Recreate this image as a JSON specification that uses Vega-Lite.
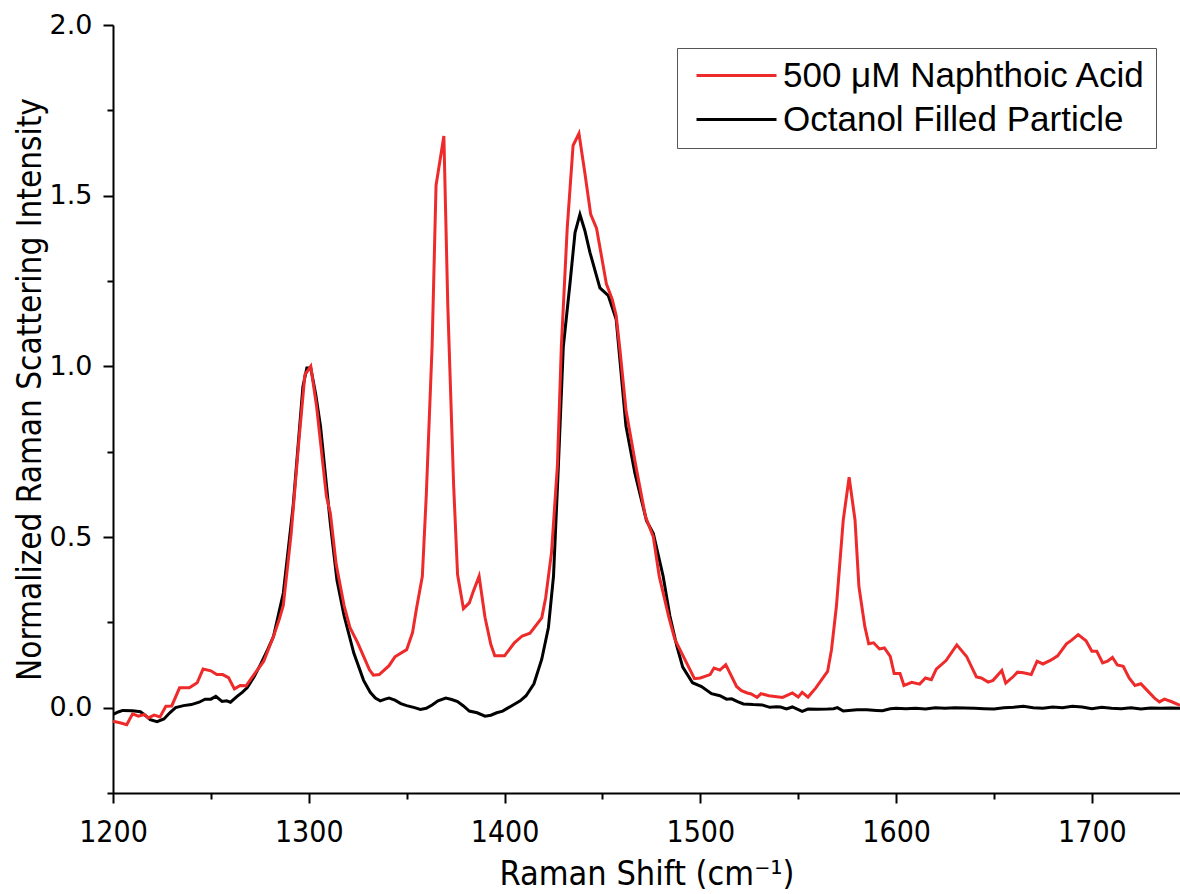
{
  "$schema": "https://vega.github.io/schema/vega-lite/v6.json",
  "width": 1067,
  "height": 768,
  "autosize": {"type": "none"},
  "padding": {"left": 113, "top": 25, "right": 0, "bottom": 101},
  "background": "white",
  "config": {"view": {"stroke": null}},
  "datasets": {
    "black": [
      {"series":"Octanol Filled Particle","shift":1200,"intensity":-0.02},
      {"series":"Octanol Filled Particle","shift":1203,"intensity":-0.012},
      {"series":"Octanol Filled Particle","shift":1205,"intensity":-0.008},
      {"series":"Octanol Filled Particle","shift":1210,"intensity":-0.009},
      {"series":"Octanol Filled Particle","shift":1214,"intensity":-0.012},
      {"series":"Octanol Filled Particle","shift":1217,"intensity":-0.025},
      {"series":"Octanol Filled Particle","shift":1219,"intensity":-0.035},
      {"series":"Octanol Filled Particle","shift":1222.5,"intensity":-0.041},
      {"series":"Octanol Filled Particle","shift":1226,"intensity":-0.033},
      {"series":"Octanol Filled Particle","shift":1229,"intensity":-0.015},
      {"series":"Octanol Filled Particle","shift":1232,"intensity":0.0},
      {"series":"Octanol Filled Particle","shift":1236,"intensity":0.006},
      {"series":"Octanol Filled Particle","shift":1240,"intensity":0.009},
      {"series":"Octanol Filled Particle","shift":1244,"intensity":0.016},
      {"series":"Octanol Filled Particle","shift":1247,"intensity":0.025},
      {"series":"Octanol Filled Particle","shift":1250,"intensity":0.025},
      {"series":"Octanol Filled Particle","shift":1252.5,"intensity":0.033},
      {"series":"Octanol Filled Particle","shift":1255.7,"intensity":0.018},
      {"series":"Octanol Filled Particle","shift":1258,"intensity":0.02},
      {"series":"Octanol Filled Particle","shift":1260,"intensity":0.016},
      {"series":"Octanol Filled Particle","shift":1263.4,"intensity":0.033},
      {"series":"Octanol Filled Particle","shift":1266,"intensity":0.045},
      {"series":"Octanol Filled Particle","shift":1268.5,"intensity":0.058},
      {"series":"Octanol Filled Particle","shift":1272,"intensity":0.09},
      {"series":"Octanol Filled Particle","shift":1275.3,"intensity":0.126},
      {"series":"Octanol Filled Particle","shift":1279,"intensity":0.17},
      {"series":"Octanol Filled Particle","shift":1282,"intensity":0.209},
      {"series":"Octanol Filled Particle","shift":1287,"intensity":0.336},
      {"series":"Octanol Filled Particle","shift":1292,"intensity":0.59},
      {"series":"Octanol Filled Particle","shift":1297,"intensity":0.94},
      {"series":"Octanol Filled Particle","shift":1299,"intensity":0.995},
      {"series":"Octanol Filled Particle","shift":1301,"intensity":0.995},
      {"series":"Octanol Filled Particle","shift":1303.5,"intensity":0.92},
      {"series":"Octanol Filled Particle","shift":1306,"intensity":0.824},
      {"series":"Octanol Filled Particle","shift":1311,"intensity":0.54},
      {"series":"Octanol Filled Particle","shift":1314.4,"intensity":0.373},
      {"series":"Octanol Filled Particle","shift":1318,"intensity":0.27},
      {"series":"Octanol Filled Particle","shift":1323,"intensity":0.16},
      {"series":"Octanol Filled Particle","shift":1328,"intensity":0.08},
      {"series":"Octanol Filled Particle","shift":1331.4,"intensity":0.045},
      {"series":"Octanol Filled Particle","shift":1334,"intensity":0.028},
      {"series":"Octanol Filled Particle","shift":1336.5,"intensity":0.02},
      {"series":"Octanol Filled Particle","shift":1339,"intensity":0.025},
      {"series":"Octanol Filled Particle","shift":1341,"intensity":0.028},
      {"series":"Octanol Filled Particle","shift":1344,"intensity":0.022},
      {"series":"Octanol Filled Particle","shift":1347,"intensity":0.012},
      {"series":"Octanol Filled Particle","shift":1350,"intensity":0.006},
      {"series":"Octanol Filled Particle","shift":1354,"intensity":0.0},
      {"series":"Octanol Filled Particle","shift":1357,"intensity":-0.005},
      {"series":"Octanol Filled Particle","shift":1360,"intensity":-0.002},
      {"series":"Octanol Filled Particle","shift":1363,"intensity":0.008},
      {"series":"Octanol Filled Particle","shift":1366,"intensity":0.02},
      {"series":"Octanol Filled Particle","shift":1370,"intensity":0.028},
      {"series":"Octanol Filled Particle","shift":1373,"intensity":0.024},
      {"series":"Octanol Filled Particle","shift":1376,"intensity":0.018},
      {"series":"Octanol Filled Particle","shift":1379,"intensity":0.005},
      {"series":"Octanol Filled Particle","shift":1382,"intensity":-0.01},
      {"series":"Octanol Filled Particle","shift":1386,"intensity":-0.015},
      {"series":"Octanol Filled Particle","shift":1390,"intensity":-0.025},
      {"series":"Octanol Filled Particle","shift":1393,"intensity":-0.022},
      {"series":"Octanol Filled Particle","shift":1396,"intensity":-0.015},
      {"series":"Octanol Filled Particle","shift":1399,"intensity":-0.01},
      {"series":"Octanol Filled Particle","shift":1402,"intensity":0.0},
      {"series":"Octanol Filled Particle","shift":1405,"intensity":0.01},
      {"series":"Octanol Filled Particle","shift":1408,"intensity":0.02},
      {"series":"Octanol Filled Particle","shift":1411,"intensity":0.035},
      {"series":"Octanol Filled Particle","shift":1415,"intensity":0.07},
      {"series":"Octanol Filled Particle","shift":1419,"intensity":0.142},
      {"series":"Octanol Filled Particle","shift":1422.4,"intensity":0.235},
      {"series":"Octanol Filled Particle","shift":1425,"intensity":0.385},
      {"series":"Octanol Filled Particle","shift":1427.5,"intensity":0.71},
      {"series":"Octanol Filled Particle","shift":1430,"intensity":1.057},
      {"series":"Octanol Filled Particle","shift":1433.4,"intensity":1.242},
      {"series":"Octanol Filled Particle","shift":1436,"intensity":1.392},
      {"series":"Octanol Filled Particle","shift":1438.5,"intensity":1.445},
      {"series":"Octanol Filled Particle","shift":1441,"intensity":1.398},
      {"series":"Octanol Filled Particle","shift":1443.6,"intensity":1.334},
      {"series":"Octanol Filled Particle","shift":1448.7,"intensity":1.23},
      {"series":"Octanol Filled Particle","shift":1453,"intensity":1.207},
      {"series":"Octanol Filled Particle","shift":1457,"intensity":1.138},
      {"series":"Octanol Filled Particle","shift":1462,"intensity":0.826},
      {"series":"Octanol Filled Particle","shift":1466.6,"intensity":0.686},
      {"series":"Octanol Filled Particle","shift":1472.5,"intensity":0.548},
      {"series":"Octanol Filled Particle","shift":1476,"intensity":0.51},
      {"series":"Octanol Filled Particle","shift":1481,"intensity":0.385},
      {"series":"Octanol Filled Particle","shift":1484.4,"intensity":0.27},
      {"series":"Octanol Filled Particle","shift":1488,"intensity":0.18},
      {"series":"Octanol Filled Particle","shift":1491,"intensity":0.119},
      {"series":"Octanol Filled Particle","shift":1496,"intensity":0.073},
      {"series":"Octanol Filled Particle","shift":1500.6,"intensity":0.062},
      {"series":"Octanol Filled Particle","shift":1505.7,"intensity":0.041},
      {"series":"Octanol Filled Particle","shift":1510,"intensity":0.035},
      {"series":"Octanol Filled Particle","shift":1513.4,"intensity":0.025},
      {"series":"Octanol Filled Particle","shift":1516,"intensity":0.026},
      {"series":"Octanol Filled Particle","shift":1519,"intensity":0.018},
      {"series":"Octanol Filled Particle","shift":1522,"intensity":0.011},
      {"series":"Octanol Filled Particle","shift":1527,"intensity":0.009},
      {"series":"Octanol Filled Particle","shift":1531.6,"intensity":0.008},
      {"series":"Octanol Filled Particle","shift":1535.5,"intensity":0.001},
      {"series":"Octanol Filled Particle","shift":1539,"intensity":0.003},
      {"series":"Octanol Filled Particle","shift":1541,"intensity":0.002},
      {"series":"Octanol Filled Particle","shift":1544,"intensity":-0.004},
      {"series":"Octanol Filled Particle","shift":1547,"intensity":0.002},
      {"series":"Octanol Filled Particle","shift":1552,"intensity":-0.011},
      {"series":"Octanol Filled Particle","shift":1555,"intensity":-0.004},
      {"series":"Octanol Filled Particle","shift":1560,"intensity":-0.005},
      {"series":"Octanol Filled Particle","shift":1565,"intensity":-0.004},
      {"series":"Octanol Filled Particle","shift":1568,"intensity":-0.003},
      {"series":"Octanol Filled Particle","shift":1570,"intensity":0.0},
      {"series":"Octanol Filled Particle","shift":1573,"intensity":-0.01},
      {"series":"Octanol Filled Particle","shift":1580,"intensity":-0.006},
      {"series":"Octanol Filled Particle","shift":1585,"intensity":-0.006},
      {"series":"Octanol Filled Particle","shift":1590,"intensity":-0.008},
      {"series":"Octanol Filled Particle","shift":1593,"intensity":-0.009},
      {"series":"Octanol Filled Particle","shift":1597,"intensity":-0.003},
      {"series":"Octanol Filled Particle","shift":1600,"intensity":-0.002},
      {"series":"Octanol Filled Particle","shift":1605,"intensity":-0.003},
      {"series":"Octanol Filled Particle","shift":1610,"intensity":-0.002},
      {"series":"Octanol Filled Particle","shift":1615,"intensity":-0.004},
      {"series":"Octanol Filled Particle","shift":1620,"intensity":0.0},
      {"series":"Octanol Filled Particle","shift":1625,"intensity":-0.002},
      {"series":"Octanol Filled Particle","shift":1630,"intensity":0.0},
      {"series":"Octanol Filled Particle","shift":1635,"intensity":-0.001},
      {"series":"Octanol Filled Particle","shift":1640,"intensity":-0.002},
      {"series":"Octanol Filled Particle","shift":1645,"intensity":-0.003},
      {"series":"Octanol Filled Particle","shift":1650,"intensity":-0.004},
      {"series":"Octanol Filled Particle","shift":1655,"intensity":0.0},
      {"series":"Octanol Filled Particle","shift":1660,"intensity":0.001},
      {"series":"Octanol Filled Particle","shift":1665,"intensity":0.004},
      {"series":"Octanol Filled Particle","shift":1670,"intensity":0.0},
      {"series":"Octanol Filled Particle","shift":1675,"intensity":-0.002},
      {"series":"Octanol Filled Particle","shift":1680,"intensity":0.002},
      {"series":"Octanol Filled Particle","shift":1685,"intensity":0.0},
      {"series":"Octanol Filled Particle","shift":1690,"intensity":0.004},
      {"series":"Octanol Filled Particle","shift":1695,"intensity":0.002},
      {"series":"Octanol Filled Particle","shift":1700,"intensity":-0.003},
      {"series":"Octanol Filled Particle","shift":1705,"intensity":0.001},
      {"series":"Octanol Filled Particle","shift":1710,"intensity":-0.002},
      {"series":"Octanol Filled Particle","shift":1715,"intensity":-0.003},
      {"series":"Octanol Filled Particle","shift":1720,"intensity":0.0},
      {"series":"Octanol Filled Particle","shift":1725,"intensity":-0.004},
      {"series":"Octanol Filled Particle","shift":1730,"intensity":-0.001},
      {"series":"Octanol Filled Particle","shift":1735,"intensity":-0.002},
      {"series":"Octanol Filled Particle","shift":1740,"intensity":-0.001},
      {"series":"Octanol Filled Particle","shift":1745,"intensity":-0.002}
    ],
    "red": [
      {"series":"500 μM Naphthoic Acid","shift":1200,"intensity":-0.04},
      {"series":"500 μM Naphthoic Acid","shift":1204,"intensity":-0.045},
      {"series":"500 μM Naphthoic Acid","shift":1207,"intensity":-0.05},
      {"series":"500 μM Naphthoic Acid","shift":1210,"intensity":-0.018},
      {"series":"500 μM Naphthoic Acid","shift":1213,"intensity":-0.025},
      {"series":"500 μM Naphthoic Acid","shift":1216,"intensity":-0.02},
      {"series":"500 μM Naphthoic Acid","shift":1218,"intensity":-0.03},
      {"series":"500 μM Naphthoic Acid","shift":1221,"intensity":-0.022},
      {"series":"500 μM Naphthoic Acid","shift":1224,"intensity":-0.027},
      {"series":"500 μM Naphthoic Acid","shift":1227,"intensity":0.004},
      {"series":"500 μM Naphthoic Acid","shift":1230,"intensity":0.005},
      {"series":"500 μM Naphthoic Acid","shift":1234,"intensity":0.058},
      {"series":"500 μM Naphthoic Acid","shift":1239,"intensity":0.058},
      {"series":"500 μM Naphthoic Acid","shift":1243,"intensity":0.073},
      {"series":"500 μM Naphthoic Acid","shift":1246,"intensity":0.113},
      {"series":"500 μM Naphthoic Acid","shift":1250,"intensity":0.108},
      {"series":"500 μM Naphthoic Acid","shift":1253,"intensity":0.097},
      {"series":"500 μM Naphthoic Acid","shift":1256,"intensity":0.097},
      {"series":"500 μM Naphthoic Acid","shift":1259,"intensity":0.088},
      {"series":"500 μM Naphthoic Acid","shift":1262,"intensity":0.055},
      {"series":"500 μM Naphthoic Acid","shift":1265,"intensity":0.065},
      {"series":"500 μM Naphthoic Acid","shift":1268,"intensity":0.064},
      {"series":"500 μM Naphthoic Acid","shift":1272,"intensity":0.097},
      {"series":"500 μM Naphthoic Acid","shift":1277,"intensity":0.136},
      {"series":"500 μM Naphthoic Acid","shift":1282,"intensity":0.209},
      {"series":"500 μM Naphthoic Acid","shift":1285,"intensity":0.26},
      {"series":"500 μM Naphthoic Acid","shift":1287,"intensity":0.3},
      {"series":"500 μM Naphthoic Acid","shift":1291,"intensity":0.51},
      {"series":"500 μM Naphthoic Acid","shift":1295,"intensity":0.785},
      {"series":"500 μM Naphthoic Acid","shift":1298,"intensity":0.975},
      {"series":"500 μM Naphthoic Acid","shift":1301,"intensity":1.0},
      {"series":"500 μM Naphthoic Acid","shift":1304,"intensity":0.882},
      {"series":"500 μM Naphthoic Acid","shift":1309,"intensity":0.62},
      {"series":"500 μM Naphthoic Acid","shift":1311,"intensity":0.57},
      {"series":"500 μM Naphthoic Acid","shift":1314,"intensity":0.42},
      {"series":"500 μM Naphthoic Acid","shift":1318,"intensity":0.3},
      {"series":"500 μM Naphthoic Acid","shift":1321,"intensity":0.235},
      {"series":"500 μM Naphthoic Acid","shift":1325,"intensity":0.19},
      {"series":"500 μM Naphthoic Acid","shift":1328,"intensity":0.15},
      {"series":"500 μM Naphthoic Acid","shift":1331,"intensity":0.111},
      {"series":"500 μM Naphthoic Acid","shift":1333,"intensity":0.095},
      {"series":"500 μM Naphthoic Acid","shift":1336,"intensity":0.097},
      {"series":"500 μM Naphthoic Acid","shift":1341,"intensity":0.123},
      {"series":"500 μM Naphthoic Acid","shift":1344,"intensity":0.149},
      {"series":"500 μM Naphthoic Acid","shift":1350,"intensity":0.17},
      {"series":"500 μM Naphthoic Acid","shift":1353,"intensity":0.22},
      {"series":"500 μM Naphthoic Acid","shift":1355,"intensity":0.29},
      {"series":"500 μM Naphthoic Acid","shift":1358,"intensity":0.385},
      {"series":"500 μM Naphthoic Acid","shift":1360,"intensity":0.62},
      {"series":"500 μM Naphthoic Acid","shift":1363,"intensity":1.06},
      {"series":"500 μM Naphthoic Acid","shift":1365,"intensity":1.53},
      {"series":"500 μM Naphthoic Acid","shift":1369,"intensity":1.675},
      {"series":"500 μM Naphthoic Acid","shift":1371,"intensity":1.18},
      {"series":"500 μM Naphthoic Acid","shift":1374,"intensity":0.65},
      {"series":"500 μM Naphthoic Acid","shift":1376,"intensity":0.39},
      {"series":"500 μM Naphthoic Acid","shift":1379,"intensity":0.29},
      {"series":"500 μM Naphthoic Acid","shift":1382,"intensity":0.307},
      {"series":"500 μM Naphthoic Acid","shift":1384,"intensity":0.34},
      {"series":"500 μM Naphthoic Acid","shift":1387,"intensity":0.385},
      {"series":"500 μM Naphthoic Acid","shift":1390,"intensity":0.265},
      {"series":"500 μM Naphthoic Acid","shift":1393,"intensity":0.185},
      {"series":"500 μM Naphthoic Acid","shift":1395,"intensity":0.152},
      {"series":"500 μM Naphthoic Acid","shift":1400,"intensity":0.152},
      {"series":"500 μM Naphthoic Acid","shift":1405,"intensity":0.19},
      {"series":"500 μM Naphthoic Acid","shift":1409,"intensity":0.21},
      {"series":"500 μM Naphthoic Acid","shift":1413,"intensity":0.218},
      {"series":"500 μM Naphthoic Acid","shift":1419,"intensity":0.263},
      {"series":"500 μM Naphthoic Acid","shift":1421,"intensity":0.322},
      {"series":"500 μM Naphthoic Acid","shift":1424,"intensity":0.455},
      {"series":"500 μM Naphthoic Acid","shift":1427,"intensity":0.71},
      {"series":"500 μM Naphthoic Acid","shift":1429,"intensity":1.057},
      {"series":"500 μM Naphthoic Acid","shift":1432,"intensity":1.404},
      {"series":"500 μM Naphthoic Acid","shift":1435,"intensity":1.647},
      {"series":"500 μM Naphthoic Acid","shift":1438,"intensity":1.682},
      {"series":"500 μM Naphthoic Acid","shift":1441,"intensity":1.567},
      {"series":"500 μM Naphthoic Acid","shift":1444,"intensity":1.445},
      {"series":"500 μM Naphthoic Acid","shift":1447,"intensity":1.404},
      {"series":"500 μM Naphthoic Acid","shift":1452,"intensity":1.242},
      {"series":"500 μM Naphthoic Acid","shift":1455,"intensity":1.196},
      {"series":"500 μM Naphthoic Acid","shift":1457,"intensity":1.149},
      {"series":"500 μM Naphthoic Acid","shift":1459,"intensity":1.045},
      {"series":"500 μM Naphthoic Acid","shift":1462,"intensity":0.873},
      {"series":"500 μM Naphthoic Acid","shift":1467,"intensity":0.71},
      {"series":"500 μM Naphthoic Acid","shift":1472,"intensity":0.559},
      {"series":"500 μM Naphthoic Acid","shift":1476,"intensity":0.5},
      {"series":"500 μM Naphthoic Acid","shift":1479,"intensity":0.385},
      {"series":"500 μM Naphthoic Acid","shift":1484,"intensity":0.263},
      {"series":"500 μM Naphthoic Acid","shift":1487,"intensity":0.2},
      {"series":"500 μM Naphthoic Acid","shift":1491,"intensity":0.154},
      {"series":"500 μM Naphthoic Acid","shift":1497,"intensity":0.085},
      {"series":"500 μM Naphthoic Acid","shift":1500,"intensity":0.087},
      {"series":"500 μM Naphthoic Acid","shift":1505,"intensity":0.097},
      {"series":"500 μM Naphthoic Acid","shift":1507,"intensity":0.116},
      {"series":"500 μM Naphthoic Acid","shift":1510,"intensity":0.11},
      {"series":"500 μM Naphthoic Acid","shift":1513,"intensity":0.126},
      {"series":"500 μM Naphthoic Acid","shift":1518.5,"intensity":0.062},
      {"series":"500 μM Naphthoic Acid","shift":1521,"intensity":0.05},
      {"series":"500 μM Naphthoic Acid","shift":1524,"intensity":0.043},
      {"series":"500 μM Naphthoic Acid","shift":1526,"intensity":0.04},
      {"series":"500 μM Naphthoic Acid","shift":1529,"intensity":0.03},
      {"series":"500 μM Naphthoic Acid","shift":1531,"intensity":0.041},
      {"series":"500 μM Naphthoic Acid","shift":1535,"intensity":0.035},
      {"series":"500 μM Naphthoic Acid","shift":1542,"intensity":0.03},
      {"series":"500 μM Naphthoic Acid","shift":1547,"intensity":0.043},
      {"series":"500 μM Naphthoic Acid","shift":1550,"intensity":0.031},
      {"series":"500 μM Naphthoic Acid","shift":1552,"intensity":0.045},
      {"series":"500 μM Naphthoic Acid","shift":1555,"intensity":0.031},
      {"series":"500 μM Naphthoic Acid","shift":1559,"intensity":0.058},
      {"series":"500 μM Naphthoic Acid","shift":1565,"intensity":0.106},
      {"series":"500 μM Naphthoic Acid","shift":1567,"intensity":0.17},
      {"series":"500 μM Naphthoic Acid","shift":1569.5,"intensity":0.297},
      {"series":"500 μM Naphthoic Acid","shift":1573,"intensity":0.55},
      {"series":"500 μM Naphthoic Acid","shift":1576,"intensity":0.675},
      {"series":"500 μM Naphthoic Acid","shift":1579,"intensity":0.55},
      {"series":"500 μM Naphthoic Acid","shift":1581,"intensity":0.355},
      {"series":"500 μM Naphthoic Acid","shift":1584,"intensity":0.238},
      {"series":"500 μM Naphthoic Acid","shift":1586,"intensity":0.187},
      {"series":"500 μM Naphthoic Acid","shift":1588.5,"intensity":0.19},
      {"series":"500 μM Naphthoic Acid","shift":1591.5,"intensity":0.172},
      {"series":"500 μM Naphthoic Acid","shift":1594,"intensity":0.175},
      {"series":"500 μM Naphthoic Acid","shift":1597,"intensity":0.15},
      {"series":"500 μM Naphthoic Acid","shift":1599,"intensity":0.1},
      {"series":"500 μM Naphthoic Acid","shift":1602,"intensity":0.1},
      {"series":"500 μM Naphthoic Acid","shift":1604,"intensity":0.065},
      {"series":"500 μM Naphthoic Acid","shift":1608,"intensity":0.074},
      {"series":"500 μM Naphthoic Acid","shift":1612,"intensity":0.069},
      {"series":"500 μM Naphthoic Acid","shift":1615,"intensity":0.087},
      {"series":"500 μM Naphthoic Acid","shift":1618,"intensity":0.082},
      {"series":"500 μM Naphthoic Acid","shift":1620.5,"intensity":0.113},
      {"series":"500 μM Naphthoic Acid","shift":1625.5,"intensity":0.138},
      {"series":"500 μM Naphthoic Acid","shift":1631,"intensity":0.184},
      {"series":"500 μM Naphthoic Acid","shift":1636,"intensity":0.15},
      {"series":"500 μM Naphthoic Acid","shift":1641,"intensity":0.09},
      {"series":"500 μM Naphthoic Acid","shift":1643.5,"intensity":0.087},
      {"series":"500 μM Naphthoic Acid","shift":1647,"intensity":0.075},
      {"series":"500 μM Naphthoic Acid","shift":1649.5,"intensity":0.08},
      {"series":"500 μM Naphthoic Acid","shift":1654,"intensity":0.109},
      {"series":"500 μM Naphthoic Acid","shift":1656,"intensity":0.072},
      {"series":"500 μM Naphthoic Acid","shift":1660,"intensity":0.092},
      {"series":"500 μM Naphthoic Acid","shift":1662,"intensity":0.104},
      {"series":"500 μM Naphthoic Acid","shift":1665,"intensity":0.102},
      {"series":"500 μM Naphthoic Acid","shift":1669,"intensity":0.097},
      {"series":"500 μM Naphthoic Acid","shift":1672,"intensity":0.136},
      {"series":"500 μM Naphthoic Acid","shift":1675,"intensity":0.128},
      {"series":"500 μM Naphthoic Acid","shift":1679,"intensity":0.139},
      {"series":"500 μM Naphthoic Acid","shift":1682.5,"intensity":0.152},
      {"series":"500 μM Naphthoic Acid","shift":1687,"intensity":0.187},
      {"series":"500 μM Naphthoic Acid","shift":1689.5,"intensity":0.197},
      {"series":"500 μM Naphthoic Acid","shift":1693,"intensity":0.214},
      {"series":"500 μM Naphthoic Acid","shift":1697,"intensity":0.196},
      {"series":"500 μM Naphthoic Acid","shift":1700,"intensity":0.165},
      {"series":"500 μM Naphthoic Acid","shift":1702.5,"intensity":0.165},
      {"series":"500 μM Naphthoic Acid","shift":1705.5,"intensity":0.131},
      {"series":"500 μM Naphthoic Acid","shift":1708,"intensity":0.136},
      {"series":"500 μM Naphthoic Acid","shift":1710.5,"intensity":0.147},
      {"series":"500 μM Naphthoic Acid","shift":1713,"intensity":0.125},
      {"series":"500 μM Naphthoic Acid","shift":1716,"intensity":0.121},
      {"series":"500 μM Naphthoic Acid","shift":1719,"intensity":0.087},
      {"series":"500 μM Naphthoic Acid","shift":1722,"intensity":0.065},
      {"series":"500 μM Naphthoic Acid","shift":1725,"intensity":0.07},
      {"series":"500 μM Naphthoic Acid","shift":1727.5,"intensity":0.055},
      {"series":"500 μM Naphthoic Acid","shift":1732,"intensity":0.028},
      {"series":"500 μM Naphthoic Acid","shift":1734.5,"intensity":0.017},
      {"series":"500 μM Naphthoic Acid","shift":1737,"intensity":0.025},
      {"series":"500 μM Naphthoic Acid","shift":1740.5,"intensity":0.018},
      {"series":"500 μM Naphthoic Acid","shift":1745,"intensity":0.007}
    ]
  },
  "encoding": {
    "x": {
      "field": "shift", "type": "quantitative",
      "scale": {"domain": [1200, 1745], "nice": false, "zero": false},
      "axis": {
        "title": "Raman Shift (cm⁻¹)",
        "values": [1200, 1250, 1300, 1350, 1400, 1450, 1500, 1550, 1600, 1650, 1700],
        "labelExpr": "datum.value % 100 === 0 ? format(datum.value, 'd') : ''",
        "grid": false,
        "domainColor": "#000", "domainWidth": 2,
        "tickColor": "#000", "tickWidth": 2,
        "tickSize": {"condition": {"test": "datum.value % 100 === 0", "value": 10}, "value": 6},
        "labelFont": "Liberation Sans Narrow, DejaVu Sans Condensed, Liberation Sans",
        "labelFontSize": 30, "labelColor": "#000", "labelPadding": 14,
        "labelFlush": false, "labelOverlap": false,
        "titleFont": "Liberation Sans Narrow, DejaVu Sans Condensed, Liberation Sans",
        "titleFontSize": 34, "titleFontWeight": "normal", "titleColor": "#000",
        "titlePadding": 10
      }
    },
    "y": {
      "field": "intensity", "type": "quantitative",
      "scale": {"domain": [-0.25, 2.0], "nice": false, "zero": false},
      "axis": {
        "title": "Normalized Raman Scattering Intensity",
        "values": [-0.25, 0, 0.25, 0.5, 0.75, 1.0, 1.25, 1.5, 1.75, 2.0],
        "labelExpr": "abs(datum.value * 2 - round(datum.value * 2)) < 0.001 ? format(datum.value, '.1f') : ''",
        "grid": false,
        "domainColor": "#000", "domainWidth": 2,
        "tickColor": "#000", "tickWidth": 2,
        "tickSize": {"condition": {"test": "abs(datum.value * 2 - round(datum.value * 2)) < 0.001", "value": 10}, "value": 6},
        "labelFont": "DejaVu Sans",
        "labelFontSize": 27, "labelColor": "#000", "labelPadding": 11,
        "labelFlush": false, "labelOverlap": false,
        "titleFont": "Liberation Sans Narrow, DejaVu Sans Condensed, Liberation Sans",
        "titleFontSize": 33, "titleFontWeight": "normal", "titleColor": "#000",
        "titlePadding": 2,
        "titleY": 364
      }
    },
    "color": {
      "field": "series", "type": "nominal",
      "scale": {"domain": ["500 μM Naphthoic Acid", "Octanol Filled Particle"], "range": ["#ee2a2a", "#000000"]},
      "legend": {
        "title": null,
        "orient": "none", "legendX": 564, "legendY": 23,
        "direction": "vertical",
        "symbolType": "M-4,0H4", "symbolSize": 400, "symbolStrokeWidth": 3,
        "symbolOffset": 32,
        "labelFont": "Liberation Sans", "labelFontSize": 35, "labelColor": "#000",
        "labelOffset": 29, "labelLimit": 600,
        "rowPadding": 8,
        "padding": 10,
        "strokeColor": "#555", "fillColor": "#fff", "cornerRadius": 0
      }
    }
  },
  "layer": [
    {"data": {"name": "black"}, "mark": {"type": "line", "strokeWidth": 3, "clip": true}},
    {"data": {"name": "red"}, "mark": {"type": "line", "strokeWidth": 3, "clip": true}}
  ]
}
